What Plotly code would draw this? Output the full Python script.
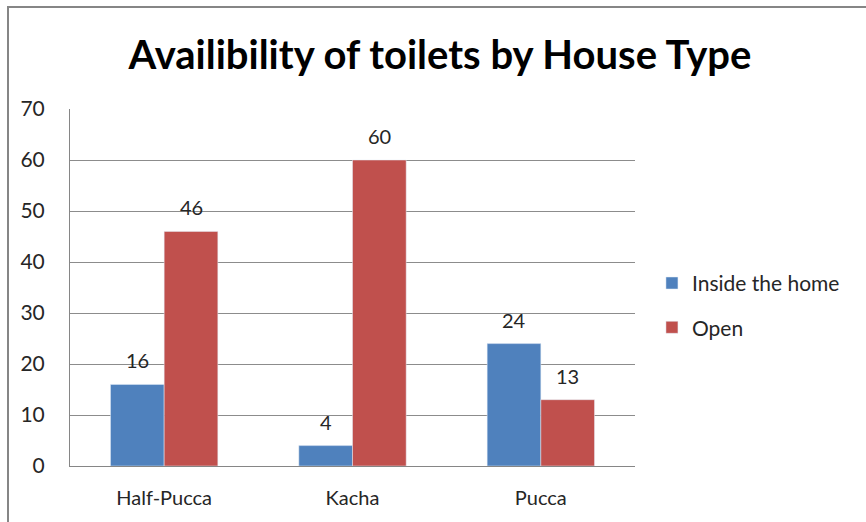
import plotly.graph_objects as go

categories = ["Half-Pucca", "Kacha", "Pucca"]
inside_home = [16, 4, 24]
open_def = [46, 60, 13]
y_ticks = [0, 10, 20, 30, 40, 50, 60, 70]

FONT = "Lato, 'Open Sans', sans-serif"
BARGAP = 0.43
HALF = (1 - BARGAP) / 4  # centre offset of each bar within its category

fig = go.Figure()
fig.add_trace(go.Bar(x=categories, y=inside_home, name="Inside the home", legendgroup="a",
                     marker_color="#4F81BD"))
fig.add_trace(go.Bar(x=categories, y=open_def, name="Open", legendgroup="b",
                     marker_color="#C0504D"))

annotations = []
for series, off in ((inside_home, -HALF), (open_def, HALF)):
    for i, v in enumerate(series):
        annotations.append(dict(x=i + off, y=v, xref="x", yref="y", text=str(v),
                                showarrow=False, yanchor="middle", yshift=24,
                                font=dict(size=20, color="#262626")))

fig.update_layout(
    width=866, height=522,
    margin=dict(l=70, r=231, t=109, b=56, autoexpand=False),
    paper_bgcolor="white", plot_bgcolor="white",
    barmode="group", bargap=BARGAP, bargroupgap=0,
    font=dict(family=FONT, size=20, color="#262626"),
    title=dict(text="<b>Availibility of toilets by House Type</b>",
               x=0.508, xref="container", xanchor="center", y=0.895, yanchor="middle",
               font=dict(family=FONT, size=40, color="black")),
    legend=dict(x=1.03, y=0.45, xanchor="left", yanchor="middle",
                font=dict(size=21), itemwidth=30, tracegroupgap=14),
    xaxis=dict(showgrid=False, showline=True, linecolor="#868686", ticks="",
               tickfont=dict(size=20), ticklabelstandoff=14),
    yaxis=dict(range=[0, 70], tickvals=y_ticks, showgrid=True, gridcolor="#8c8c8c",
               showline=True, linecolor="#868686", ticks="",
               tickfont=dict(size=21), ticklabelstandoff=20, zeroline=False),
    annotations=annotations,
    shapes=[dict(type="rect", xref="paper", yref="paper",
                 x0=-62/565, x1=1.5, y0=-0.3, y1=(466-7)/357,
                 line=dict(color="#868686", width=2), fillcolor="rgba(0,0,0,0)")],
)

fig.write_html("out.html")
